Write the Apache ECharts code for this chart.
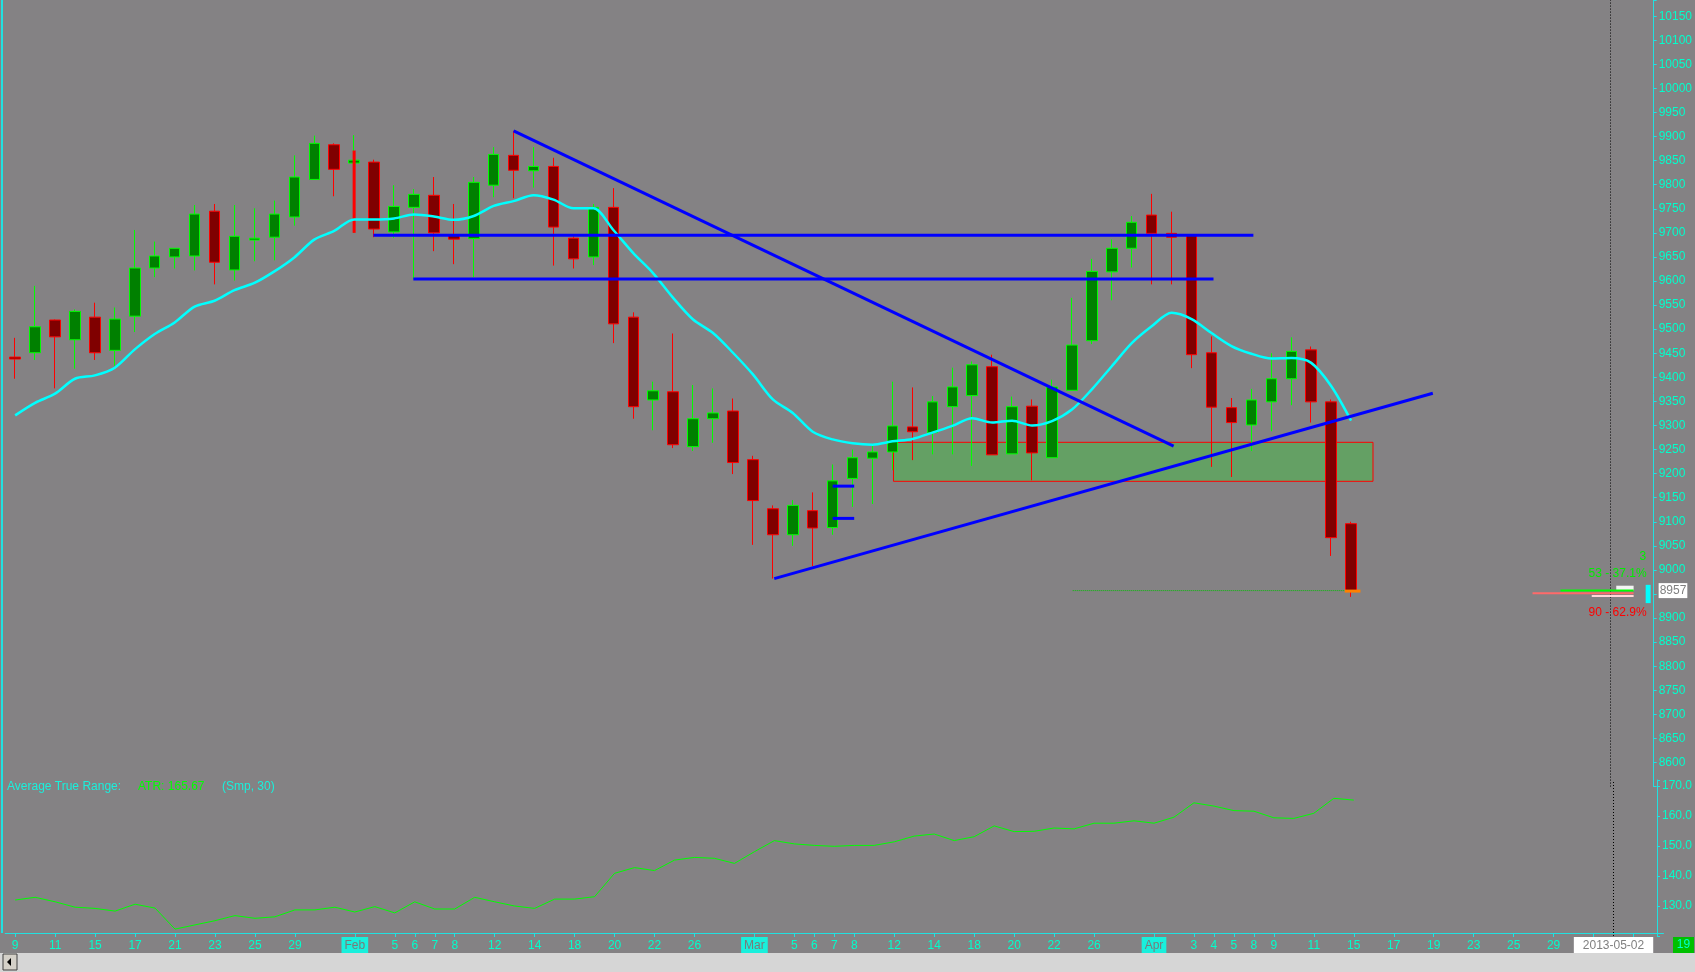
<!DOCTYPE html>
<html><head><meta charset="utf-8">
<script src="https://cdn.jsdelivr.net/npm/echarts@6/dist/echarts.min.js"></script>
<style>html,body{margin:0;padding:0;background:#848284;overflow:hidden}#c{width:1695px;height:972px}</style>
</head><body><div id="c"></div><script>
// ---------- data ----------
const dates = ['2013-01-09','2013-01-10','2013-01-11','2013-01-14','2013-01-15','2013-01-16','2013-01-17','2013-01-18','2013-01-21','2013-01-22','2013-01-23','2013-01-24','2013-01-25','2013-01-28','2013-01-29','2013-01-30','2013-01-31','2013-02-01','2013-02-04','2013-02-05','2013-02-06','2013-02-07','2013-02-08','2013-02-11','2013-02-12','2013-02-13','2013-02-14','2013-02-15','2013-02-18','2013-02-19','2013-02-20','2013-02-21','2013-02-22','2013-02-25','2013-02-26','2013-02-27','2013-02-28','2013-03-01','2013-03-04','2013-03-05','2013-03-06','2013-03-07','2013-03-08','2013-03-11','2013-03-12','2013-03-13','2013-03-14','2013-03-15','2013-03-18','2013-03-19','2013-03-20','2013-03-21','2013-03-22','2013-03-25','2013-03-26','2013-03-27','2013-03-28','2013-04-01','2013-04-02','2013-04-03','2013-04-04','2013-04-05','2013-04-08','2013-04-09','2013-04-10','2013-04-11','2013-04-12','2013-04-15','2013-04-16','2013-04-17','2013-04-18','2013-04-19','2013-04-22','2013-04-23','2013-04-24','2013-04-25','2013-04-26','2013-04-29','2013-04-30','2013-05-01','2013-05-02','2013-05-03','2013-05-06'];

const tickDates = ['2013-01-09','2013-01-11','2013-01-15','2013-01-17','2013-01-21','2013-01-23','2013-01-25','2013-01-29','2013-02-01','2013-02-05','2013-02-06','2013-02-07','2013-02-08','2013-02-12','2013-02-14','2013-02-18','2013-02-20','2013-02-22','2013-02-26','2013-03-01','2013-03-05','2013-03-06','2013-03-07','2013-03-08','2013-03-12','2013-03-14','2013-03-18','2013-03-20','2013-03-22','2013-03-26','2013-04-01','2013-04-03','2013-04-04','2013-04-05','2013-04-08','2013-04-09','2013-04-11','2013-04-15','2013-04-17','2013-04-19','2013-04-23','2013-04-25','2013-04-29','2013-05-01','2013-05-02','2013-05-03'];
const tickTexts = ['9','11','15','17','21','23','25','29','Feb','5','6','7','8','12','14','18','20','22','26','Mar','5','6','7','8','12','14','18','20','22','26','Apr','3','4','5','8','9','11','15','17','19','23','25','29','','2013-05-02',''];
const cursorDate = '2013-05-02';

const open  = [9442,9451,9519,9478,9525,9456,9527,9627,9650,9652, 9745,9623,9685,9691,9733,9811,9883,9845,9847,9702, 9753,9778,9696,9688,9799,9861,9829,9838,9689,9650, 9753,9525,9353,9370,9256,9314,9330,9229,9127,9073, 9123,9088,9190,9232,9245,9297,9285,9339,9362,9422, 9241,9340,9233,9373,9476,9619,9668,9737,9699,9696, 9451,9337,9301,9349,9397,9457,9349,9096];
const close = [9438,9505,9484,9537,9451,9521,9627,9652,9668,9739, 9639,9693,9689,9739,9816,9886,9832,9851,9708,9755, 9780,9700,9687,9805,9863,9830,9838,9712,9646,9753, 9511,9339,9372,9260,9314,9326,9223,9144,9073,9134, 9087,9185,9233,9245,9299,9287,9349,9380,9426,9239, 9339,9243,9380,9467,9620,9668,9722,9699,9691,9447, 9338,9306,9353,9397,9454,9349,9067,8957];
const low   = [9397,9436,9377,9418,9436,9424,9494,9608,9626,9622, 9593,9601,9641,9643,9715,9811,9776,9700,9691,9689, 9604,9662,9635,9608,9774,9772,9794,9632,9626,9633, 9471,9314,9290,9253,9247,9264,9199,9052,8982,9050, 9008,9073,9131,9137,9207,9228,9240,9240,9216,9239, 9241,9186,9233,9372,9469,9560,9628,9593,9593,9419, 9214,9193,9247,9288,9342,9306,9029,8944];
const high  = [9482,9590,9520,9541,9555,9545,9706,9682,9668,9758, 9760,9758,9751,9767,9861,9902,9886,9903,9852,9799, 9791,9816,9760,9816,9878,9912,9878,9856,9693,9760, 9793,9535,9391,9491,9384,9377,9356,9237,9134,9145, 9161,9219,9250,9257,9391,9379,9361,9420,9433,9447, 9360,9354,9395,9565,9646,9686,9735,9781,9744,9696, 9485,9357,9376,9450,9483,9464,9354,9100];

const ma = [9321,9347,9366,9397,9404,9420,9458,9490,9514,9547, 9559,9581,9596,9620,9649,9686,9704,9728,9728,9730, 9738,9734,9727,9735,9756,9766,9778,9769,9751,9751, 9706,9658,9616,9565,9520,9492,9451,9406,9354,9326, 9287,9271,9263,9260,9267,9272,9285,9299,9315,9306, 9310,9300,9309,9333,9375,9423,9471,9506,9534,9521, 9492,9465,9449,9439,9440,9430,9382,9310];

const atr = [132.0,132.9,131.4,129.6,129.2,128.3,130.6,129.3,122.3,123.7, 125.1,126.8,125.9,126.4,128.7,128.7,129.6,128.0,129.8,127.7, 131.4,129.0,129.0,132.9,131.4,130.0,129.2,132.3,132.3,133.1, 140.9,142.8,141.8,145.3,146.2,145.9,144.2,148.1,151.8,150.7, 150.2,149.9,150.2,150.2,151.4,153.3,154.0,151.8,153.1,156.7, 154.8,154.9,156.0,155.7,157.6,157.6,158.4,157.6,159.6,164.4, 163.3,161.8,161.6,159.4,159.2,160.9,165.9,165.3];
const atrText = '165.67';

// drawings (x in bar index units, y in price)
const trendDown   = [[25.0, 9912], [58.1, 9257]];
const trendUp     = [[38.07, 8982], [71.1, 9367]];
const resistHigh  = [[17.97, 9695], [62.1, 9695]];
const resistLow   = [[19.97, 9604], [60.1, 9604]];
const entryHigh   = [[41.0, 9174], [42.08, 9174]];
const entryLow    = [[41.0, 9107], [42.08, 9107]];
const redMarker   = [[17, 9871], [17, 9700]];
const closeMarker = [[66.68, 8956], [67.47, 8956]];
const lastPriceDots = [[53.04, 8957], [67.0, 8957]];
const zone = [44.05, 68.1, 9265, 9184];
const bidBar  = [[77.5, 8957], [81.17, 8957]];
const askBar  = [[76.1, 8951.5], [81.17, 8951.5]];
const bookWhite = [[80.3, 8962], [81.17, 8962]];
const bookPink  = [[79.07, 8946], [81.17, 8946]];
const bookCyan  = [[81.9, 8969], [81.9, 8931]];
const counts = ['3', '53 - 37.1%', '90 - 62.9%'];
const countPrices = [9027, 8993, 8911];

// ---------- chart ----------
const FONT = 'Liberation Sans';
const TEAL = '#00ffcc';
const AXIS = '#22e0e0';
const N = dates.length;
const candleData = open.map((o, i) => [o, close[i], low[i], high[i]]);
const tickMap = {};
tickDates.forEach((d, k) => { tickMap[d] = tickTexts[k]; });
const months = ['Jan','Feb','Mar','Apr','May','Jun','Jul','Aug','Sep','Oct','Nov','Dec'];

function seg(points, color, width, type, z) {
  return { type: 'line', xAxisIndex: 2, yAxisIndex: 0, data: points, symbol: 'none', silent: true,
    lineStyle: { color: color, width: width, type: type || 'solid', cap: 'butt' }, z: z || 6 };
}
const cursorLine = { silent: true, symbol: 'none', label: { show: false },
  lineStyle: { color: '#000000', type: [1, 2], width: 1 }, data: [{ xAxis: cursorDate }] };

const chart = echarts.init(document.getElementById('c'));
chart.setOption({
  animation: false,
  backgroundColor: '#848284',
  textStyle: { fontFamily: FONT },
  title: {
    left: 7, top: 781, padding: 0,
    text: '{a|Average True Range:}{b|ATR: ' + atrText + '}{a|(Smp, 30)}',
    textStyle: { fontWeight: 'normal', rich: {
      a: { color: '#19f0dc', fontSize: 12, fontFamily: FONT, fontWeight: 'normal', width: 131 },
      b: { color: '#00ff00', fontSize: 12, fontFamily: FONT, fontWeight: 'normal', width: 84 }
    } }
  },
  grid: [
    { left: 5.2, top: 0, width: 1658.3, height: 786.57 },
    { left: 5.2, top: 780, width: 1658.3, height: 156 }
  ],
  xAxis: [
    { type: 'category', gridIndex: 0, data: dates, show: false, boundaryGap: true },
    { type: 'category', gridIndex: 1, data: dates, boundaryGap: true, offset: -3,
      axisLine: { lineStyle: { color: AXIS, width: 1 } },
      axisTick: { show: true, alignWithLabel: true, length: 4, lineStyle: { color: AXIS },
        interval: (i, v) => (v in tickMap) && v !== cursorDate },
      axisLabel: { show: true, margin: 4, color: TEAL, fontFamily: FONT, fontSize: 12,
        interval: (i, v) => (v in tickMap) && tickMap[v] !== '',
        formatter: (v) => {
          const t = tickMap[v] || '';
          if (months.indexOf(t) >= 0) return '{m|' + t + '}';
          if (t.length > 5) return '{d|' + t + '}';
          return '{n|' + t + '}';
        },
        rich: {
          n: { color: TEAL, fontSize: 12, fontFamily: FONT, padding: [3, 0, 2, 0] },
          m: { color: '#7a7a7a', backgroundColor: '#19f0dc', fontSize: 12, fontFamily: FONT, padding: [3, 3, 2, 3] },
          d: { color: '#808080', backgroundColor: '#ffffff', fontSize: 12, fontFamily: FONT, padding: [3, 9, 2, 9] }
        }
      },
      splitLine: { show: false } },
    { type: 'value', gridIndex: 0, min: -0.5, max: N - 0.5, show: false }
  ],
  yAxis: [
    { type: 'value', gridIndex: 0, position: 'right', offset: -6.5, min: 8550, max: 10183.65, interval: 50,
      splitLine: { show: false },
      axisLine: { show: true, onZero: false, lineStyle: { color: AXIS } },
      axisTick: { show: true, length: 3, lineStyle: { color: AXIS } },
      axisLabel: { color: TEAL, fontFamily: FONT, fontSize: 12, margin: 5,
        formatter: (v) => (v >= 8600 && v <= 10150 && Math.abs(v % 50) < 1e-6) ? String(v) : '' } },
    { type: 'value', gridIndex: 1, position: 'right', offset: -6.5, min: 120, max: 172, interval: 10,
      splitLine: { show: false },
      axisLine: { show: true, onZero: false, lineStyle: { color: AXIS } },
      axisTick: { show: true, length: 3, lineStyle: { color: AXIS } },
      axisLabel: { color: TEAL, fontFamily: FONT, fontSize: 12, margin: 5,
        formatter: (v) => (v >= 130 && v <= 170) ? v.toFixed(1) : '' } }
  ],
  series: [
    { type: 'custom', xAxisIndex: 2, yAxisIndex: 0, z: 1, silent: true, data: [zone],
      encode: { x: [0, 1], y: [2, 3] },
      renderItem: (params, api) => {
        const p0 = api.coord([api.value(0), api.value(2)]);
        const p1 = api.coord([api.value(1), api.value(3)]);
        return { type: 'rect', shape: { x: p0[0], y: p0[1], width: p1[0] - p0[0], height: p1[1] - p0[1] },
          style: { fill: 'rgba(0,255,0,0.24)', stroke: '#ff0000', lineWidth: 1 } };
      } },
    { type: 'candlestick', xAxisIndex: 0, yAxisIndex: 0, data: candleData, barWidth: 11, z: 3,
      itemStyle: { color: '#008000', color0: '#800000', borderColor: '#00ff00', borderColor0: '#ff0000', borderWidth: 1 },
      markLine: cursorLine },
    { type: 'line', xAxisIndex: 0, yAxisIndex: 0, data: ma, smooth: 0.3, symbol: 'none', silent: true,
      lineStyle: { color: '#00ffff', width: 2.5 }, z: 5 },
    seg(lastPriceDots, '#00c000', 1, 'dotted', 4),
    seg(redMarker, '#ff0000', 3, 'solid', 4),
    seg(trendDown, '#0000ff', 3),
    seg(trendUp, '#0000ff', 3),
    seg(resistHigh, '#0000ff', 3),
    seg(resistLow, '#0000ff', 3),
    seg(entryHigh, '#0000ff', 3),
    seg(entryLow, '#0000ff', 3),
    seg(closeMarker, '#ff8000', 3),
    seg(bookWhite, '#f4f4f4', 5),
    seg(bidBar, '#00ff00', 2),
    seg(askBar, '#ff6a6a', 2),
    seg(bookPink, '#ffd8d8', 2),
    seg(bookCyan, '#00ffff', 5),
    { type: 'line', xAxisIndex: 1, yAxisIndex: 1, data: atr, symbol: 'none', silent: true,
      lineStyle: { color: '#00ff00', width: 1 }, z: 4, markLine: cursorLine }
  ]
});

const lastClose = close[close.length - 1];
const yLast = chart.convertToPixel({ yAxisIndex: 0 }, lastClose);
const axisX = chart.convertToPixel({ xAxisIndex: 2 }, N - 0.5) - 6.5;
const yCnt = countPrices.map(p => chart.convertToPixel({ yAxisIndex: 0 }, p));
chart.setOption({
  graphic: [
    { type: 'rect', left: 1, top: 0, shape: { width: 2, height: 933 }, style: { fill: AXIS }, z: 10 },
    { type: 'rect', left: 0, top: 953, shape: { width: 1695, height: 19 }, style: { fill: '#d6d6d6' }, z: 10 },
    { type: 'rect', x: 3, y: 954, shape: { width: 14, height: 16 }, style: { fill: '#d4d0c8', stroke: '#404040', lineWidth: 1 }, z: 11 },
    { type: 'polygon', shape: { points: [[11, 958], [11, 966], [7, 962]] }, style: { fill: '#000' }, z: 12 },
    { type: 'rect', x: 1673, y: 937, shape: { width: 21, height: 16 }, style: { fill: '#00c000' }, z: 10 },
    { type: 'text', x: 1683.5, y: 945, style: { text: '19', fill: TEAL, font: '12px ' + FONT, align: 'center', verticalAlign: 'middle' }, z: 11 },
    { type: 'text', x: axisX + 5, y: yLast, style: { text: String(lastClose), fill: '#808080', backgroundColor: '#ffffff', padding: [2, 1, 1, 1], font: '12px ' + FONT, align: 'left', verticalAlign: 'middle' }, z: 11 },
    { type: 'text', x: axisX - 7.5, y: yCnt[0], style: { text: counts[0], fill: '#00ee00', font: '12px ' + FONT, align: 'right', verticalAlign: 'middle' }, z: 11 },
    { type: 'text', x: axisX - 7, y: yCnt[1], style: { text: counts[1], fill: '#00ee00', font: '12px ' + FONT, align: 'right', verticalAlign: 'middle' }, z: 11 },
    { type: 'text', x: axisX - 7, y: yCnt[2], style: { text: counts[2], fill: '#ff0000', font: '12px ' + FONT, align: 'right', verticalAlign: 'middle' }, z: 11 }
  ]
});
</script></body></html>
